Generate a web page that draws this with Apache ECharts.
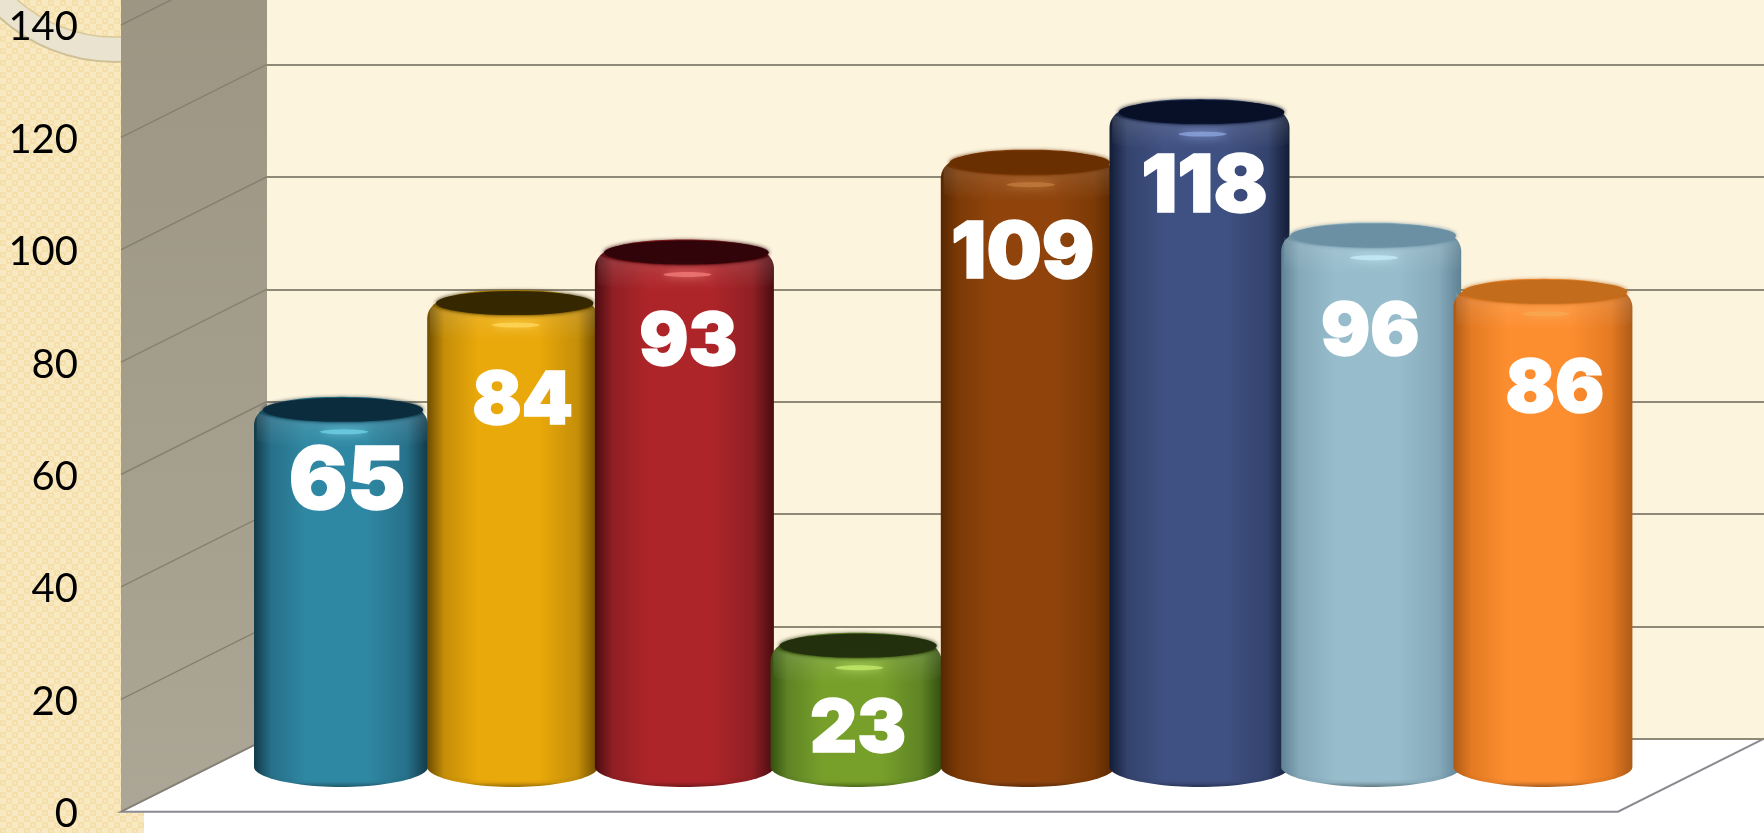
<!DOCTYPE html>
<html>
<head>
<meta charset="utf-8">
<style>html,body{margin:0;padding:0;background:#fff}#c{width:1764px;height:833px}</style>
<script src="https://cdn.jsdelivr.net/npm/echarts@6/dist/echarts.min.js"></script>
</head>
<body>
<div id="c"></div>
<script>
// ---- data ----
const categories = ['A','B','C','D','E','F','G','H'];
const values = [65, 84, 93, 23, 109, 118, 96, 86];
const yTicks = [0, 20, 40, 60, 80, 100, 120, 140];

// ---- styling, per bar ----
const palette = [
  {base:'#2f88a3', mid:'#27708a', edge:'#123a49', cap:'#0b2c3c', glow:'#6fd0e4'},
  {base:'#eaa90a', mid:'#c58e08', edge:'#6d4c00', cap:'#352800', glow:'#ffd75a'},
  {base:'#ae2529', mid:'#8f1f24', edge:'#4a0c10', cap:'#300408', glow:'#f07a78'},
  {base:'#76a02a', mid:'#5f8325', edge:'#33500f', cap:'#22300e', glow:'#c4ea6a'},
  {base:'#90440c', mid:'#7c3a06', edge:'#572701', cap:'#6a2f00', glow:'#c07a3c'},
  {base:'#3f5082', mid:'#34436d', edge:'#121c35', cap:'#071026', glow:'#8ba2dc'},
  {base:'#97bdcc', mid:'#85a9b9', edge:'#5e8294', cap:'#6b90a4', glow:'#c4ecf7'},
  {base:'#fd8e30', mid:'#e47a22', edge:'#ad5a16', cap:'#c26c1c', glow:'#f8a850'}
];
const barWidths = [174, 171, 179, 171, 174, 180, 180, 179];
const labelSizes = [87, 73, 73, 73, 78, 80, 73, 73];
const labelDx = [6, 10, 4, 2, -5, 5, -1, 12];
const labelDy = [73, 99, 91, 84, 92, 76, 97, 98];

const DEPTH_X = 146, DEPTH_Y = 73;

function bez(p0, p1, p2, p3, n) {
  const out = [];
  for (let i = 0; i <= n; i++) {
    const t = i / n, u = 1 - t;
    out.push([
      u*u*u*p0[0] + 3*u*u*t*p1[0] + 3*u*t*t*p2[0] + t*t*t*p3[0],
      u*u*u*p0[1] + 3*u*u*t*p1[1] + 3*u*t*t*p2[1] + t*t*t*p3[1]
    ]);
  }
  return out;
}
function ell(cx, cy, rx, ry, a0, a1, n) {
  const out = [];
  for (let i = 0; i <= n; i++) {
    const a = a0 + (a1 - a0) * i / n;
    out.push([cx + rx * Math.cos(a), cy + ry * Math.sin(a)]);
  }
  return out;
}

function renderBar(params, api) {
  const i = api.value(0);
  const v = api.value(1);
  const top = api.coord([i, v]);
  const base = api.coord([i, 0]);
  const cx = top[0], yc = top[1], yb = base[1];
  const hw = barWidths[i] / 2, L = cx - hw, R = cx + hw;
  const c = palette[i];
  const body = [].concat(
    bez([L, yc + 16], [L, yc - 4], [cx - hw * .7, yc - 13], [cx, yc - 13], 24),
    bez([cx, yc - 13], [cx + hw * .7, yc - 13], [R, yc - 4], [R, yc + 16], 24),
    bez([R, yb - 8], [R, yb + 3], [cx + hw * .5, yb + 12], [cx, yb + 12], 24),
    bez([cx, yb + 12], [cx - hw * .5, yb + 12], [L, yb + 3], [L, yb - 8], 24)
  );
  const G = echarts.graphic.LinearGradient;
  const bevel = [].concat(
    ell(cx + 1, yc, hw * .98, 13, 0, Math.PI, 40),
    ell(cx + 1, yc + 30, hw * .98, 8, Math.PI, 0, 40)
  );
  const foot = [].concat(
    bez([R, yb - 8], [R, yb + 3], [cx + hw * .5, yb + 12], [cx, yb + 12], 24),
    bez([cx, yb + 12], [cx - hw * .5, yb + 12], [L, yb + 3], [L, yb - 8], 24),
    ell(cx, yb - 8, hw, 14, Math.PI, 0, 40)
  );
  return {
    type: 'group',
    children: [
      {type: 'polygon', shape: {points: body}, style: {
        fill: new G(0, 0, 1, 0, [
          {offset: 0, color: c.edge}, {offset: .1, color: c.mid},
          {offset: .3, color: c.base}, {offset: .65, color: c.base},
          {offset: .88, color: c.mid}, {offset: 1, color: c.edge}
        ])}},
      {type: 'polygon', shape: {points: foot}, style: {
        fill: new G(0, 0, 0, 1, [
          {offset: 0, color: 'rgba(0,0,0,0)'}, {offset: .75, color: 'rgba(0,0,0,0.03)'},
          {offset: 1, color: 'rgba(0,0,0,0.35)'}
        ])}},
      {type: 'polygon', shape: {points: bevel}, style: {
        fill: new G(0, 0, 0, 1, [
          {offset: .3, color: 'rgba(255,255,255,0.10)'}, {offset: 1, color: 'rgba(255,255,255,0)'}
        ])}},
      {type: 'polygon', shape: {points: ell(cx + 2, yc, hw * .92, 12, 0, Math.PI * 2, 72)},
        style: {fill: c.cap, shadowBlur: 4, shadowColor: c.cap}},
      {type: 'polygon', shape: {points: ell(cx + 3, yc + 22, 24, 2.5, 0, Math.PI * 2, 32)},
        style: {fill: c.glow, shadowBlur: 8, shadowColor: c.glow, opacity: .8}},
      {type: 'text', style: {
        text: String(v), x: cx + labelDx[i], y: yc + labelDy[i],
        fill: '#fff', stroke: '#fff', lineWidth: 1.5,
        font: '900 ' + labelSizes[i] + 'px Inter, "Liberation Sans", sans-serif',
        align: 'center', verticalAlign: 'middle'
      }}
    ]
  };
}

function renderWalls(params, api) {
  const r = params.coordSys;
  const x0 = r.x, x1 = r.x + r.width, yBase = api.coord([0, 0])[1];
  const bx = x0 + DEPTH_X, by = yBase - DEPTH_Y;
  const yTop = r.y - 200;
  return {
    type: 'group',
    children: [
      {type: 'polygon', shape: {points: [[x0, yBase], [bx, by], [x1 + DEPTH_X, by], [x1, yBase]]},
        style: {fill: '#fff'}},
      {type: 'polygon', shape: {points: [[x0, yTop], [bx, yTop], [bx, by], [x0, yBase]]},
        style: {fill: new echarts.graphic.LinearGradient(0, 0, 0, 1, [
          {offset: .2, color: '#9d9683'}, {offset: 1, color: '#aca696'}
        ])}},
      {type: 'polyline', shape: {points: [[bx, by], [x0, yBase], [x1, yBase], [x1 + DEPTH_X, by]]},
        style: {fill: 'none', stroke: '#8b8a92', lineWidth: 2}}
    ]
  };
}
function renderSlant(params, api) {
  const p = api.coord([0, api.value(0)]);
  const x0 = params.coordSys.x;
  return {type: 'line', shape: {x1: x0, y1: p[1], x2: x0 + DEPTH_X, y2: p[1] - DEPTH_Y},
    style: {stroke: '#87816f', lineWidth: 1.5}};
}

// tan backdrop tile
const tile = document.createElement('canvas');
tile.width = tile.height = 12;
const g = tile.getContext('2d');
g.fillStyle = '#f9e9c2'; g.fillRect(0, 0, 12, 12);
g.fillStyle = '#f5e0ac';
g.fillRect(0, 0, 6, 6); g.fillRect(6, 6, 6, 6);
g.fillStyle = '#f9e9c2';
g.fillRect(2, 2, 2, 2); g.fillRect(8, 8, 2, 2);

const chart = echarts.init(document.getElementById('c'), null, {renderer: 'canvas', width: 1764, height: 833});
const hiddenX = i => ({type: 'category', gridIndex: i, data: categories, show: false});
const hiddenY = {type: 'value', min: 0, max: 140, interval: 20, show: false};
chart.setOption({
  animation: false,
  backgroundColor: '#fff',
  graphic: {elements: [
    {type: 'rect', z: -20, silent: true, shape: {x: 267, y: 0, width: 1497, height: 739}, style: {fill: '#fdf4dd'}},
    {type: 'rect', z: -20, silent: true, shape: {x: 0, y: 0, width: 144, height: 833}, style: {fill: {image: tile, repeat: 'repeat'}}},
    {type: 'circle', z: -19, silent: true, shape: {cx: 115, cy: -110, r: 172}, style: {fill: '#e9e3cf', stroke: '#cfc095', lineWidth: 2}},
    {type: 'circle', z: -18, silent: true, shape: {cx: 115, cy: -110, r: 147}, style: {fill: {image: tile, repeat: 'repeat'}, stroke: '#d9c998', lineWidth: 1.5}}
  ]},
  grid: [
    {left: 121, width: 1497, top: 25, height: 786.7, outerBoundsMode: 'none'},
    {left: 255.15, width: 1373.6, top: -11.5, height: 786.5, outerBoundsMode: 'none'},
    {left: 267, width: 1497, top: -48, height: 787, outerBoundsMode: 'none'}
  ],
  xAxis: [hiddenX(0), hiddenX(1), hiddenX(2)],
  yAxis: [
    {type: 'value', gridIndex: 0, min: 0, max: 140, interval: 20, z: 5,
      axisLine: {show: false}, axisTick: {show: false}, splitLine: {show: false},
      axisLabel: {margin: 43, color: '#000', fontFamily: 'Lato', fontSize: 40, align: 'right',
        verticalAlign: 'top', lineHeight: 5}},
    Object.assign({gridIndex: 1}, hiddenY),
    {type: 'value', gridIndex: 2, min: 0, max: 140, interval: 20,
      axisLine: {show: false}, axisTick: {show: false}, axisLabel: {show: false},
      splitLine: {show: true, lineStyle: {color: '#8e8877', width: 2}}}
  ],
  series: [
    {type: 'custom', z: -5, xAxisIndex: 0, yAxisIndex: 0, silent: true, clip: false,
      renderItem: renderWalls, data: [[0]], encode: {y: 0}},
    {type: 'custom', z: -4, xAxisIndex: 0, yAxisIndex: 0, silent: true, clip: false,
      renderItem: renderSlant, data: yTicks.map(t => [t]), encode: {y: 0}},
    {type: 'custom', z: 3, xAxisIndex: 1, yAxisIndex: 1, clip: false,
      renderItem: renderBar, encode: {x: 0, y: 1},
      data: values.map((v, i) => [i, v])}
  ]
});
</script>
</body>
</html>
